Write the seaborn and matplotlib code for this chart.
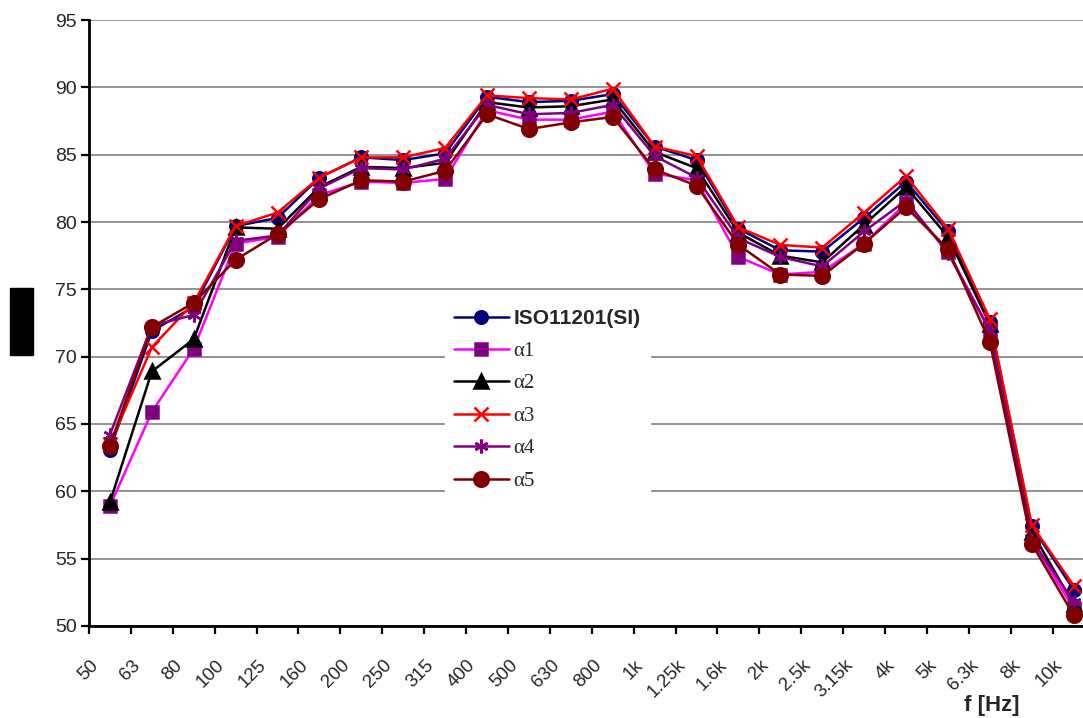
import numpy as np
import pandas as pd
import matplotlib
matplotlib.use("Agg")
import matplotlib.pyplot as plt
import matplotlib.transforms as mtrans
from matplotlib.patches import Rectangle
import seaborn as sns

sns.set_theme(style="white")
plt.rcParams['font.family'] = ['Liberation Sans', 'DejaVu Sans']

freqs = ['50', '63', '80', '100', '125', '160', '200', '250', '315', '400', '500', '630',
         '800', '1k', '1.25k', '1.6k', '2k', '2.5k', '3.15k', '4k', '5k', '6.3k', '8k', '10k']

iso = [63.1, 71.9, 73.7, 79.7, 80.3, 83.3, 84.8, 84.6, 85.1, 89.3, 88.9, 89.0,
       89.5, 85.6, 84.6, 79.5, 77.9, 77.8, 80.3, 83.0, 79.3, 72.6, 57.4, 52.7]
a1 = [58.9, 65.9, 70.6, 78.4, 78.9, 82.0, 83.0, 82.9, 83.2, 88.3, 87.6, 87.6,
      88.2, 83.6, 83.1, 77.4, 76.1, 76.3, 78.4, 81.4, 77.8, 72.0, 56.3, 51.3]
a2 = [59.2, 68.9, 71.3, 79.6, 79.5, 82.6, 84.1, 84.0, 84.4, 88.9, 88.5, 88.6,
      89.1, 85.2, 84.0, 79.2, 77.5, 77.0, 79.8, 82.6, 78.9, 72.4, 57.0, 51.6]
a3 = [63.5, 70.7, 74.0, 79.7, 80.7, 83.3, 84.8, 84.8, 85.5, 89.4, 89.2, 89.1,
      89.9, 85.6, 84.9, 79.6, 78.3, 78.1, 80.7, 83.4, 79.5, 72.8, 57.5, 53.0]
a4 = [64.2, 72.3, 73.1, 78.6, 79.0, 82.5, 84.0, 83.9, 84.7, 88.7, 88.0, 88.1,
      88.7, 84.9, 83.3, 78.8, 77.4, 76.7, 79.3, 81.6, 77.7, 71.9, 56.4, 51.8]
a5 = [63.4, 72.2, 74.0, 77.2, 79.1, 81.7, 83.1, 83.0, 83.8, 88.0, 86.9, 87.4,
      87.8, 83.9, 82.7, 78.3, 76.1, 76.0, 78.4, 81.1, 78.0, 71.1, 56.1, 50.8]

names = ['ISO11201(SI)', 'α1', 'α2', 'α3', 'α4', 'α5']
series = [iso, a1, a2, a3, a4, a5]
line_colors = ['#000080', '#FF00FF', '#000000', '#FF0000', '#800080', '#800000']
marker_colors = ['#000080', '#800080', '#000000', '#FF0000', '#800080', '#800000']
markers = ['o', 's', '^', 'x', (6, 2, 0), 'o']
msizes = [9, 9, 10, 10, 10, 10.5]

W, H = 1083, 718
fig = plt.figure(figsize=(W / 100, H / 100), dpi=100)
ax = fig.add_axes([89 / W, 1 - 626 / H, 24 * 41.9 / W, 606 / H])

pos = np.arange(len(freqs))
for name, vals, lc, mc, mk, ms in zip(names, series, line_colors, marker_colors, markers, msizes):
    df = pd.DataFrame({'pos': pos, 'level': vals})
    sns.lineplot(data=df, x='pos', y='level', ax=ax, color=lc, linewidth=1.8,
                 marker=mk, markersize=ms, markerfacecolor=mc, markeredgecolor=mc,
                 markeredgewidth=1.8, label=name)

ax.set_xlim(-0.5, len(freqs) - 0.5)
ax.set_ylim(50, 95)
ax.set_yticks(np.arange(50, 96, 5))
ax.yaxis.grid(True, color='#808080', linewidth=1.2)
ax.xaxis.grid(False)
ax.set_axisbelow(True)
ax.set_xlabel('')
ax.set_ylabel('')

for s in ['top', 'right']:
    ax.spines[s].set_visible(False)
for s in ['left', 'bottom']:
    ax.spines[s].set_color('black')
    ax.spines[s].set_linewidth(2)

ax.tick_params(axis='y', which='major', direction='out', length=6, width=1.6,
               color='black', labelsize=14, pad=3, left=True)
ax.set_xticks(pos)
ax.set_xticks(np.arange(-0.5, len(freqs), 1), minor=True)
ax.tick_params(axis='x', which='major', length=0, pad=22, labelsize=13.5)
ax.tick_params(axis='x', which='minor', direction='out', length=6, width=1.6,
               color='black', bottom=True)
ax.set_xticklabels(freqs, rotation=45, ha='right', va='top', rotation_mode='anchor')
shift = mtrans.ScaledTranslation(-20 / 100, 0, fig.dpi_scale_trans)
for lab in ax.get_xticklabels():
    lab.set_transform(lab.get_transform() + shift)

leg = ax.legend(loc='upper left', bbox_to_anchor=(445 / W, 1 - 300 / H),
                bbox_transform=fig.transFigure, frameon=True, facecolor='white',
                edgecolor='white', framealpha=1, fontsize=15, handlelength=2.6,
                handletextpad=0.25, labelspacing=0.62, borderpad=0.45, borderaxespad=0)
for i, t in enumerate(leg.get_texts()):
    if i == 0:
        t.set_fontweight('bold')
    else:
        t.set_family(['Liberation Serif', 'DejaVu Serif'])

fig.text(992 / W, 1 - 706 / H, 'f [Hz]', fontsize=16, fontweight='bold',
         ha='center', va='center')
fig.add_artist(Rectangle((10 / W, 1 - 355 / H), 23 / W, 67 / H,
                         transform=fig.transFigure, color='black'))

fig.savefig('out.png', dpi=100)
